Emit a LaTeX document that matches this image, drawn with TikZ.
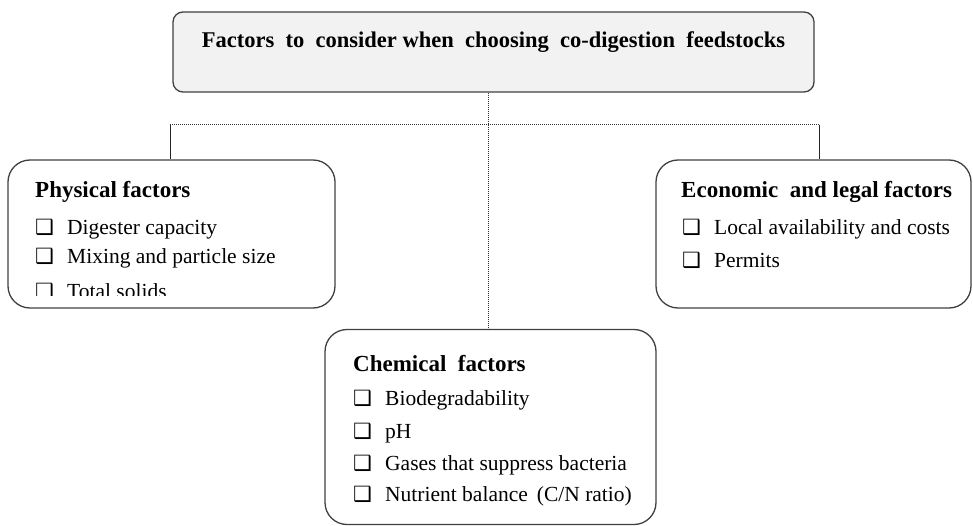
\documentclass[tikz,border=0pt]{standalone}
\usepackage{fontspec}
\setmainfont{Liberation Serif}
\newfontfamily\symfont{DejaVu Sans}
\newcommand{\chkbox}{\makebox[32pt][l]{\fontsize{21}{21}\selectfont\symfont ❑}}
\definecolor{panelfill}{HTML}{F2F2F2}
\definecolor{edge}{HTML}{404040}
\begin{document}
\begin{tikzpicture}[x=1pt,y=-1pt,
  panel/.style={draw=edge, line width=1.3pt, rounded corners=22pt, inner sep=0pt},
  head/.style={anchor=mid west, inner sep=0pt, font=\fontsize{23}{27}\selectfont\bfseries},
  item/.style={anchor=mid west, inner sep=0pt, font=\fontsize{21.5}{25}\selectfont},
  link/.style={draw=black!80, line width=1pt, dash pattern=on 1pt off 1pt},
  stem/.style={draw=black!85, line width=1pt}]
\useasboundingbox (0,0) rectangle (973,526);

% main box
\node[panel, rounded corners=10pt, fill=panelfill, minimum width=641pt, minimum height=80pt] (top) at (493.5,52) {};
\node[inner sep=0pt, font=\fontsize{22.5}{26}\selectfont\bfseries] (title) at (493.5,42)
  {Factors\ \ to\ \ consider when\ \ choosing\ \ co-digestion\ \ feedstocks};

% factor panels
\node[panel, minimum width=327pt, minimum height=148pt] (phys) at (171.5,234) {};
\node[panel, minimum width=315pt, minimum height=148pt] (econ) at (813.5,234) {};
\node[panel, minimum width=331pt, minimum height=195pt] (chem) at (490.5,427) {};

% connectors
\coordinate (lj) at (170,125);
\coordinate (hub) at (488,125);
\coordinate (rj) at (819,125);
\draw[link] (hub |- top.south) -- (hub |- chem.north);
\draw[link] (lj) -- (rj);
\draw[stem] (lj) -- (lj |- phys.north);
\draw[stem] (rj) -- (rj |- econ.north);

% physical factors
\node[head] (physh) at (35,195) {Physical factors};
\node[item] (p1) at (35,232) {\chkbox Digester capacity};
\node[item] (p2) at (35,261) {\chkbox Mixing and particle size};
\begin{scope}
  \clip (0,150) rectangle (340,295);
  \node[item] (p3) at (35,296) {\chkbox Total solids};
\end{scope}

% economic and legal factors
\node[head] (econh) at (681,195) {Economic\ \ and legal factors};
\node[item] (e1) at (682,232) {\chkbox Local availability and costs};
\node[item] (e2) at (682,265) {\chkbox Permits};

% chemical factors
\node[head] (chemh) at (353,369) {Chemical\ \ factors};
\node[item] (c1) at (353,403) {\chkbox Biodegradability};
\node[item] (c2) at (353,436) {\chkbox pH};
\node[item] (c3) at (353,468) {\chkbox Gases that suppress bacteria};
\node[item] (c4) at (353,499) {\chkbox Nutrient balance\hspace{9pt}(C/N ratio)};
\end{tikzpicture}
\end{document}
